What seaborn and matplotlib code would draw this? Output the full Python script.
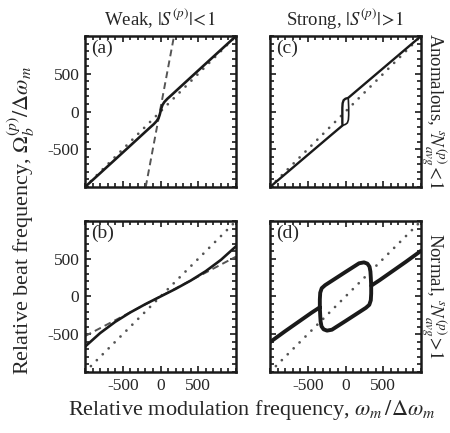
import numpy as np
import pandas as pd
import seaborn as sns
import matplotlib.pyplot as plt
from matplotlib.ticker import MultipleLocator

# ---- data ----
diag_x = [-1000, 1000]
diag_y = [-1000, 1000]

# (a) weak, anomalous
a_solid_x = [-1000, -600, -300, -150, -90, -50, -25, -10, 0, 10, 25, 50, 90, 150, 300, 600, 1000]
a_solid_y = [-1000, -635, -360, -222, -168, -125, -85, -40, 0, 40, 85, 125, 168, 222, 360, 635, 1000]
a_dash_x = [-196, 179]
a_dash_y = [-1000, 1000]

# (b) weak, normal
b_solid_x = [-1000, -800, -600, -400, -200, 0, 200, 400, 600, 800, 1000]
b_solid_y = [-665, -485, -336, -211, -101, 0, 101, 211, 336, 485, 665]
b_dash_x = [-1000, 1000]
b_dash_y = [-525, 528]

# (c) strong, anomalous (narrow hysteresis loop in the middle)
c_low_x = [-1000, -500, -200, -40, -42, -42, -42, -38, -25, 0, 35, 500, 1000]
c_low_y = [-1000, -575, -320, -185, -150, -50, 50, 110, 150, 170, 180, 575, 1000]
c_loop_x = [35, 38, 42, 42, 38, 25, 0, -40]
c_loop_y = [180, 150, 50, -50, -110, -150, -170, -185]

# (d) strong, normal (wide loop)
d_left_x = [-1000, -800, -600, -450, -340]
d_left_y = [-605, -460, -320, -215, -143]
d_loop_x = [-340, -340, -335, -315, -270, 0, 180, 245, 290, 318, 330, 335, 340,
            340, 335, 315, 270, 0, -180, -245, -290, -318, -330, -335, -340]
d_loop_y = [-143, -40, 50, 110, 150, 325, 440, 452, 435, 395, 330, 250, 143,
            40, -50, -110, -150, -325, -440, -452, -435, -395, -330, -250, -143]
d_right_x = [340, 450, 600, 800, 1000]
d_right_y = [143, 215, 320, 460, 605]

sns.set_theme(style="ticks")
plt.rcParams['font.family'] = ['Liberation Serif', 'DejaVu Serif']
plt.rcParams['mathtext.fontset'] = 'stix'
plt.rcParams['axes.unicode_minus'] = False

fig = plt.figure(figsize=(4.5, 4.33), dpi=100)
w, h = 0.3356, 0.3487
ax_a = fig.add_axes([0.1889, 0.5681, w, h])
ax_c = fig.add_axes([0.6, 0.5681, w, h])
ax_b = fig.add_axes([0.1889, 0.1409, w, h])
ax_d = fig.add_axes([0.6, 0.1409, w, h])

dot_kw = dict(color='#555555', lw=2.0, linestyle=(0, (0.01, 3.0)), dash_capstyle='round')
dash_kw = dict(color='#555555', lw=1.4, linestyle=(0, (3.5, 2.2)))


def line(ax, x, y, **kw):
    sns.lineplot(x=x, y=y, ax=ax, sort=False, estimator=None, legend=False, **kw)


for ax in [ax_a, ax_b, ax_c, ax_d]:
    line(ax, diag_x, diag_y, **dot_kw)

line(ax_a, a_dash_x, a_dash_y, **dash_kw)
line(ax_a, a_solid_x, a_solid_y, color='k', lw=1.9)

line(ax_b, b_dash_x, b_dash_y, **dash_kw)
line(ax_b, b_solid_x, b_solid_y, color='k', lw=1.9)

line(ax_c, c_low_x, c_low_y, color='k', lw=1.7)
line(ax_c, c_loop_x, c_loop_y, color='k', lw=1.2)

line(ax_d, d_left_x, d_left_y, color='k', lw=2.8)
line(ax_d, d_loop_x, d_loop_y, color='k', lw=2.8)
line(ax_d, d_right_x, d_right_y, color='k', lw=2.8)

for ax, lab in zip([ax_a, ax_b, ax_c, ax_d], ['(a)', '(b)', '(c)', '(d)']):
    ax.set_xlim(-1000, 1000)
    ax.set_ylim(-1000, 1000)
    ax.set_xticks([-500, 0, 500])
    ax.set_yticks([-500, 0, 500])
    ax.xaxis.set_minor_locator(MultipleLocator(100))
    ax.yaxis.set_minor_locator(MultipleLocator(100))
    ax.tick_params(which='both', direction='in', top=True, right=True,
                   color='k', width=1.2, labelsize=12.5, pad=4)
    ax.tick_params(which='major', length=4.5)
    ax.tick_params(which='minor', length=2.8)
    for s in ax.spines.values():
        s.set_linewidth(1.8)
        s.set_color('k')
    ax.set_xlabel('')
    ax.set_ylabel('')
    ax.text(0.04, 0.975, lab, transform=ax.transAxes, ha='left', va='top', fontsize=14)

ax_a.tick_params(labelbottom=False)
ax_c.tick_params(labelbottom=False, labelleft=False)
ax_d.tick_params(labelleft=False)

fig.text(0.356, 0.958, r'Weak, $|S^{(p)}|\!<\!1$', ha='center', va='center', fontsize=13.5)
fig.text(0.767, 0.958, r'Strong, $|S^{(p)}|\!>\!1$', ha='center', va='center', fontsize=13.5)
fig.text(0.047, 0.49, r'Relative beat frequency, $\Omega_b^{(p)}/\Delta\omega_m$',
         rotation=90, ha='center', va='center', fontsize=16)
fig.text(0.56, 0.053, r'Relative modulation frequency, $\omega_m\,/\Delta\omega_m$',
         ha='center', va='center', fontsize=16)
fig.text(0.963, 0.745, r'Anomalous, ${}^{s}\!N^{(p)}_{avg}\!<\!1$',
         rotation=270, ha='center', va='center', fontsize=13.5)
fig.text(0.963, 0.315, r'Normal, ${}^{s}\!N^{(p)}_{avg}\!>\!1$',
         rotation=270, ha='center', va='center', fontsize=13.5)

fig.savefig('out.png', dpi=100)
